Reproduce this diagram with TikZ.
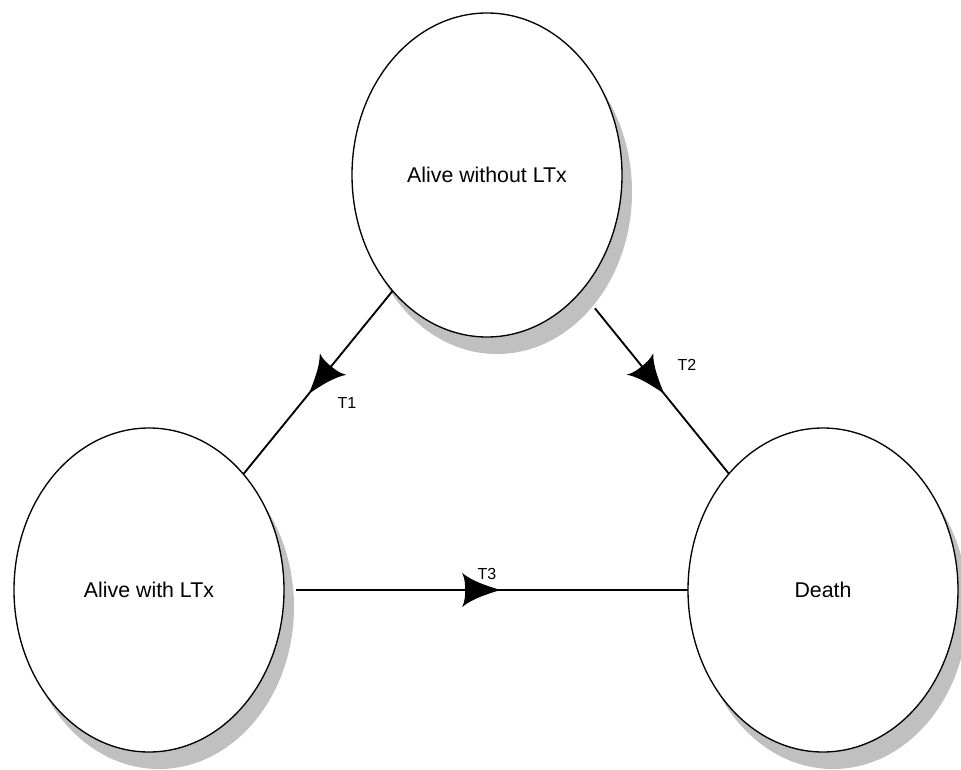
\documentclass[tikz,border=0pt]{standalone}
\usepackage{fontspec}
\setmainfont{Liberation Sans}
\usetikzlibrary{shapes.geometric,shadows,decorations.markings}
\definecolor{shadowgray}{RGB}{192,192,192}
\tikzset{
  state/.style={ellipse, draw, line width=1pt, fill=white,
    minimum width=202.5pt, minimum height=243pt, inner sep=0pt, outer sep=0pt,
    font=\fontsize{16}{19}\selectfont,
    drop shadow={shadow xshift=7.5pt, shadow yshift=-12.75pt, fill=shadowgray, opacity=1}},
  trans/.style={line width=1.4pt, postaction={decorate},
    decoration={markings, mark=at position #1 with {
      \fill (0,0) .. controls (-12,-4) and (-27,-8) .. (-38,-17)
        .. controls (-35,-11) and (-35,-5) .. (-35,0)
        .. controls (-35,5) and (-35,11) .. (-38,17)
        .. controls (-27,8) and (-12,4) .. (0,0) -- cycle;}}},
  tlabel/.style={font=\fontsize{12}{14}\selectfont, inner sep=0pt},
}
\begin{document}
\begin{tikzpicture}[x=0.75pt,y=-0.75pt]
\useasboundingbox (0,0) rectangle (961,770);
\node[state] (top) at (487,175) {Alive without LTx};
\node[state] (ll) at (149,590) {Alive with LTx};
\node[state] (death) at (823,590) {Death};
\draw[trans=0.56] (top) -- (ll);
\draw[trans=0.56, shorten <=16.5pt] (top) -- (death);
\draw[trans=0.535, shorten <=9pt] (ll) -- (death);
\node[tlabel] (t1) at (347,403) {T1};
\node[tlabel] (t2) at (687,365) {T2};
\node[tlabel] (t3) at (487,574) {T3};
\end{tikzpicture}
\end{document}
